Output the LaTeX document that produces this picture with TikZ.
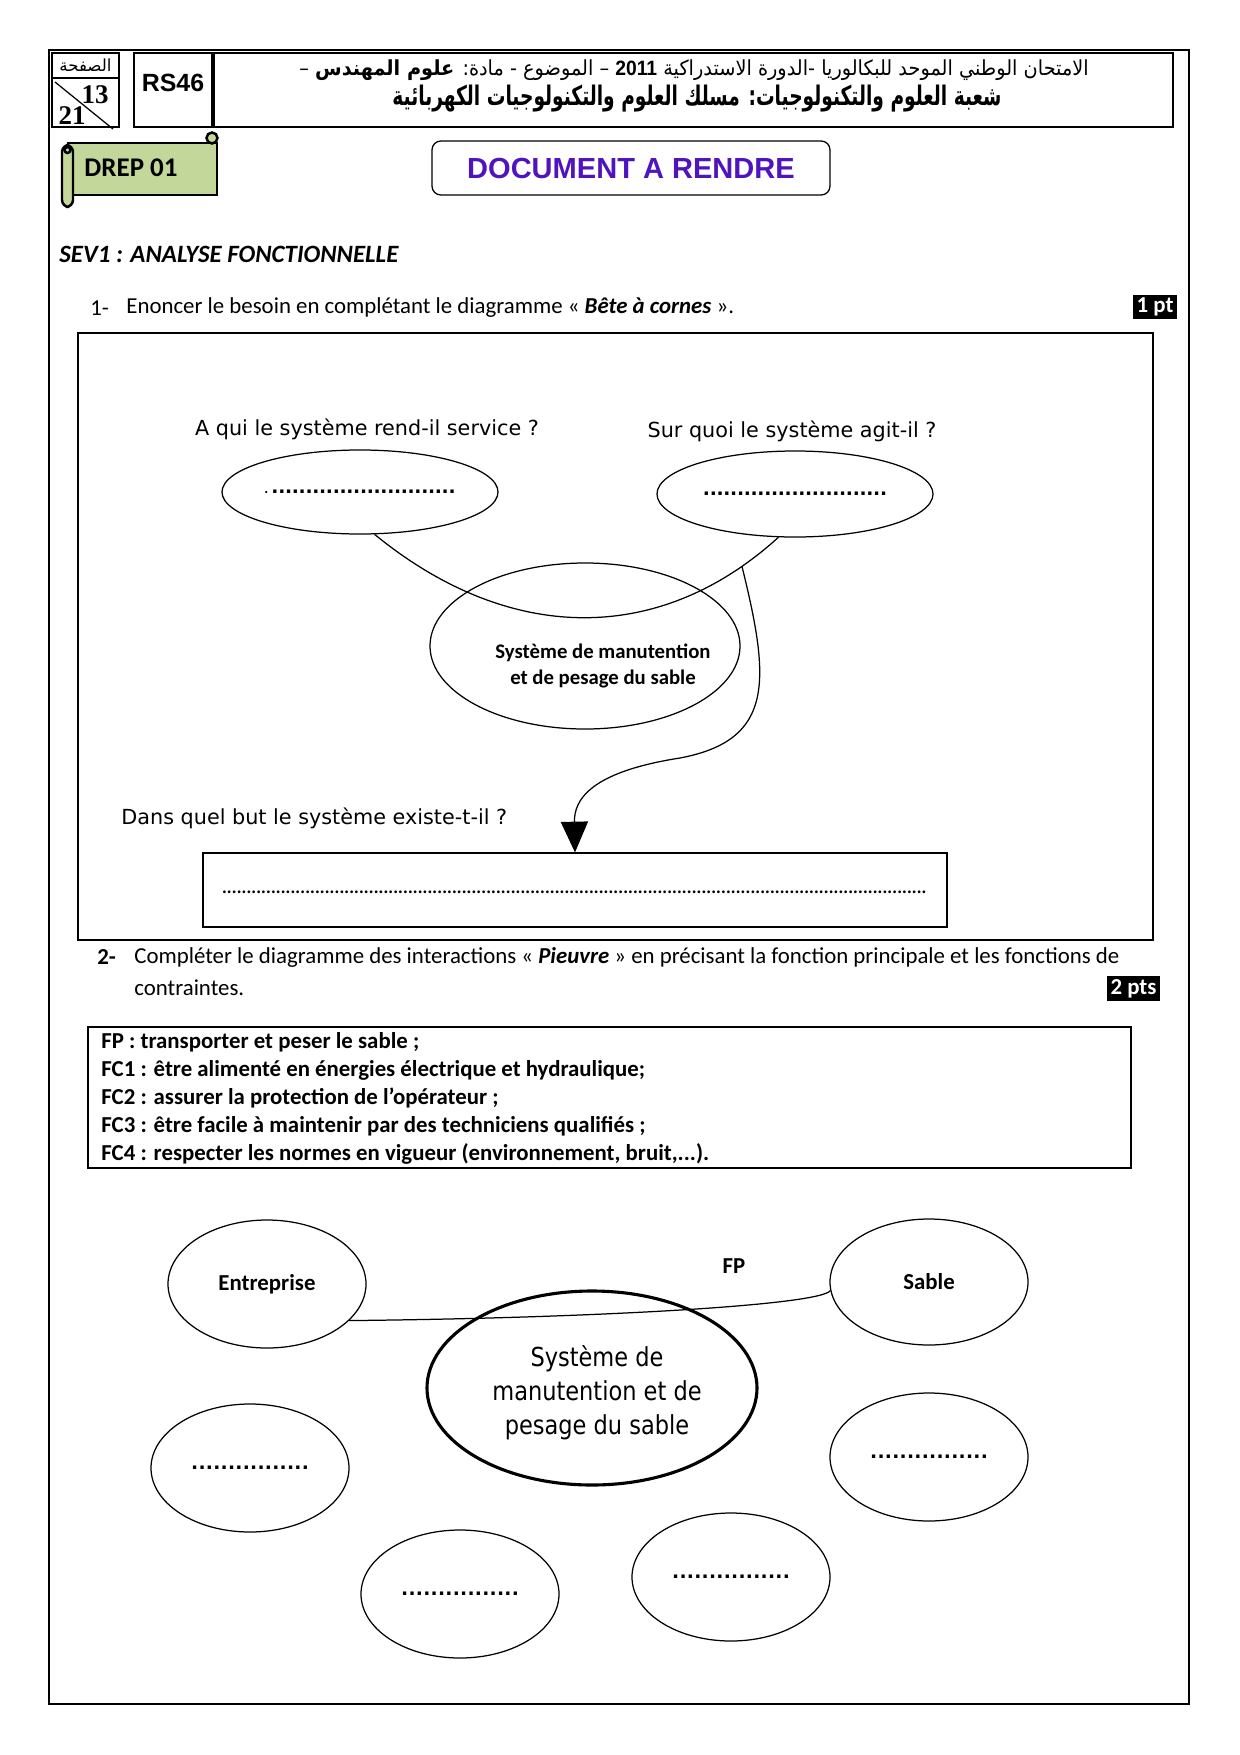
\documentclass[tikz,border=0pt]{standalone}
\usepackage{fontspec}
\usepackage{graphicx}
\setmainfont{Carlito}
\newfontfamily\comic{DejaVu Sans}
\newfontfamily\comicn[FakeStretch=0.86]{DejaVu Sans}
\newfontfamily\arab[Script=Arabic]{DejaVu Sans}
\newfontfamily\arial{Liberation Sans}
\newfontfamily\tnr{Liberation Serif}
\TeXXeTstate=1
\usetikzlibrary{arrows.meta,positioning,shapes.geometric}
\newdimen\pu \pu=0.16935mm
\newcommand\dotrow[2]{\makebox[#1\pu]{\xleaders\hbox to #2\pu{\hss.\hss}\hfill}}
\definecolor{scrl}{RGB}{196,215,155}
\definecolor{docc}{RGB}{80,20,190}
\tikzset{
  frm/.style={draw,line width=0.8pt},
  hbx/.style 2 args={draw,rectangle,minimum width=#1*0.16935mm,minimum height=#2*0.16935mm,inner sep=0pt,line width=1.3pt},
  rbx/.style 2 args={draw,rectangle,minimum width=#1*0.16935mm,minimum height=#2*0.16935mm,inner sep=0pt,line width=0.6pt},
  ell/.style 2 args={draw,ellipse,minimum width=#1*0.16935mm,minimum height=#2*0.16935mm,inner sep=0pt,line width=0.6pt},
  ln/.style={line width=0.6pt},
  ar/.style={line width=0.6pt,-{Triangle[length=5.2mm,width=4.6mm]}},
  txt/.style={font=\fontsize{11}{13}\selectfont,inner sep=0pt},
  ttl/.style={txt,anchor=west},
  cq/.style={font=\comic\fontsize{10}{12}\selectfont,inner sep=0pt},
  bld/.style={font=\bfseries\fontsize{11}{13}\selectfont,inner sep=0pt},
  pts/.style={fill=black,text=white,font=\bfseries\fontsize{11}{13}\selectfont,inner sep=1.5pt},
  scr/.style={draw,fill=scrl,line width=1.2pt}
}

\begin{document}
\begin{tikzpicture}[x=0.16935mm,y=-0.16935mm]
\useasboundingbox (0,0) rectangle (1240,1755);
\draw[frm] (49,50) rectangle (1189,1704);

% header
\node[hbx={67}{74}] (pg) at (85.5,90) {};
\draw[line width=1.3pt] (52,78) -- (119,78);
\draw[ln] (55,82) -- (113,129);
\node[font=\arab\fontsize{8}{9}\selectfont,inner sep=0pt] (pgt) at (85.5,65) {\beginR الصفحة\endR};
\node[font=\tnr\bfseries\fontsize{13}{14}\selectfont,inner sep=0pt] (pgn) at (95,95) {13};
\node[font=\tnr\bfseries\fontsize{13}{14}\selectfont,inner sep=0pt] (pgm) at (72,116) {21};
\node[hbx={78}{74}] (rs) at (173,90) {};
\node[font=\arial\bfseries\fontsize{12}{14}\selectfont,inner sep=0pt] (rst) at (173,83) {RS46};
\node[hbx={959}{74}] (hd) at (693.5,90) {};
\node[font=\arab\fontsize{10}{12}\selectfont,inner sep=0pt] (hd1) at (694,70)
  {\scalebox{0.93}[1]{\beginR الامتحان الوطني الموحد للبكالوريا -الدورة الاستدراكية \beginL{\arial\bfseries 2011}\endL{} – الموضوع - مادة: {\bfseries علوم المهندس} –\endR}};
\node[font=\arab\bfseries\fontsize{13}{15}\selectfont,inner sep=0pt] (hd2) at (697,99)
  {\scalebox{0.69}[1]{\beginR شعبة العلوم والتكنولوجيات: مسلك العلوم والتكنولوجيات الكهربائية\endR}};

% scroll and title
\filldraw[scr] (68,143) rectangle (217,195);
\filldraw[scr,rounded corners=1.2mm] (62,145) rectangle (73,207);
\filldraw[scr] (212,138) circle (5.5);
\filldraw[scr] (67.5,150) circle (3);
\node[font=\bfseries\fontsize{13}{15}\selectfont,inner sep=0pt] (drep) at (131,168) {DREP 01};
\node[draw,rounded corners=1.5mm,line width=0.6pt,minimum width=398*0.16935mm,minimum height=54*0.16935mm,
  font=\arial\bfseries\fontsize{14}{16}\selectfont,text=docc] (doc) at (631,168) {DOCUMENT A RENDRE};

\node[font=\bfseries\itshape\fontsize{12}{14}\selectfont,inner sep=0pt,anchor=west] (sev) at (59,254) {SEV1 : ANALYSE FONCTIONNELLE};

% question 1
\node[ttl] (q1n) at (90,308) {1-};
\node[ttl] (q1) at (126,308) {Enoncer le besoin en complétant le diagramme « \textbf{\textit{Bête à cornes}} ».};
\node[pts] (pt1) at (1155,307) {1 pt};
\node[rbx={1075}{607}] (bx1) at (615.5,636.5) {};

\node[cq] (qa) at (367,429) {A qui le système rend-il service ?};
\node[cq] (qb) at (792,431) {Sur quoi le système agit-il ?};
\node[ell={276}{84},font=\comic\bfseries\fontsize{9}{11}\selectfont] (aqui) at (360,492) {{\tiny.}\,\dotrow{184}{6.6}};
\node[ell={276}{86},font=\comic\bfseries\fontsize{9}{11}\selectfont] (surq) at (795,494) {\dotrow{184}{6.6}};
\node[ell={310}{166}] (sys) at (585,646) {};
\node[bld,align=center,font=\bfseries\fontsize{10}{12.5}\selectfont] (syst) at (603,666) {Système de manutention\\ et de pesage du sable};
\draw[ln] (aqui.-71) .. controls (510,645) and (660,645) .. coordinate[pos=0.9] (hk) (surq.-111);

\node[cq,anchor=west] (qc) at (121,818) {Dans quel but le système existe-t-il ?};
\node[rbx={744}{74},font=\fontsize{11}{13}\selectfont] (but) at (575,890) {\raisebox{-1.3mm}{\dotrow{706}{4.9}}};
\draw[ar] (hk) .. controls (770,680) and (775,740) .. (680,758) .. controls (590,772) and (574,800) .. (but.north);

% question 2
\node[ttl,font=\bfseries\fontsize{11}{13}\selectfont] (q2n) at (97,957) {2-};
\node[ttl] (q2) at (134,957) {Compléter le diagramme des interactions « \textbf{\textit{Pieuvre}} » en précisant la fonction principale et les fonctions de};
\node[ttl] (q2b) at (134,988) {contraintes.};
\node[pts] (pt2) at (1133.5,988.5) {2 pts};

\node[rbx={1043}{141}] (fcb) at (609.5,1097.5) {};
\node[bld,anchor=west] (fp) at (101,1042) {FP : transporter et peser le sable ;};
\node[bld,anchor=west] (fc1) at (101,1070) {FC1 : être alimenté en énergies électrique et hydraulique;};
\node[bld,anchor=west] (fc2) at (101,1098) {FC2 : assurer la protection de l’opérateur ;};
\node[bld,anchor=west] (fc3) at (101,1126) {FC3 : être facile à maintenir par des techniciens qualifiés ;};
\node[bld,anchor=west] (fc4) at (101,1154) {FC4 : respecter les normes en vigueur (environnement, bruit,...).};

% pieuvre
\node[ell={198}{128},bld] (ent) at (267,1284) {Entreprise};
\node[ell={198}{126},bld] (sab) at (929,1282) {Sable};
\node[ell={330}{194},line width=1.5pt] (sys2) at (592,1388) {};
\node[align=center,inner sep=0pt,font=\comicn\fontsize{12.6}{16.5}\selectfont] (sys2t) at (597,1393) {Système de\\manutention et de\\pesage du sable};
\node[ell={198}{128},font=\comic\bfseries\fontsize{9}{11}\selectfont] (fc1e) at (250,1468) {\dotrow{118}{7.3}};
\node[ell={198}{128},font=\comic\bfseries\fontsize{9}{11}\selectfont] (fc2e) at (929,1457) {\dotrow{118}{7.3}};
\node[ell={198}{128},font=\comic\bfseries\fontsize{9}{11}\selectfont] (fc3e) at (460,1594) {\dotrow{118}{7.3}};
\node[ell={198}{128},font=\comic\bfseries\fontsize{9}{11}\selectfont] (fc4e) at (731,1577) {\dotrow{118}{7.3}};
\node[bld] (fpl) at (734,1266) {FP};
\draw[ln] (ent.-24) .. controls (600,1318) and (820,1305) .. (sab.185);
\end{tikzpicture}
\end{document}
